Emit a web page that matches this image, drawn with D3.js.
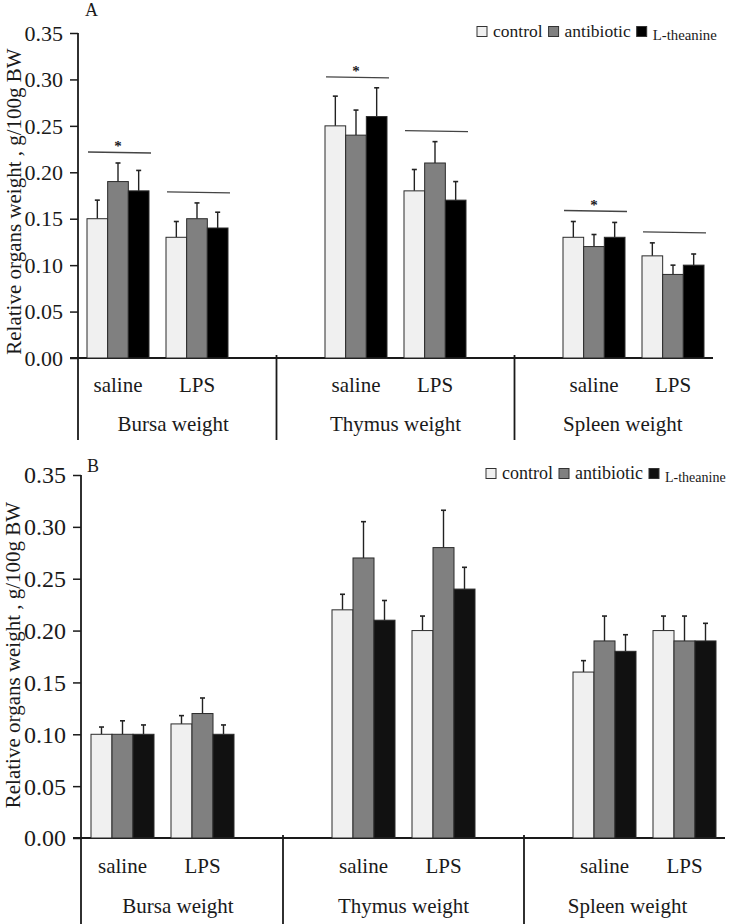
<!DOCTYPE html>
<html>
<head>
<meta charset="utf-8">
<script src="https://cdn.jsdelivr.net/npm/d3@7"></script>
<style>
  body { margin: 0; background: #fff; }
  svg { display: block; font-family: 'Liberation Serif', 'Times New Roman', serif; }
</style>
</head>
<body>
<svg id="chart" width="731" height="924"></svg>
<script>
// categories
const organs = ['Bursa weight', 'Thymus weight', 'Spleen weight']
const treatments = ['saline', 'LPS']
const series = ['control', 'antibiotic', 'L-theanine']
const yTicks = [0, 0.05, 0.10, 0.15, 0.20, 0.25, 0.30, 0.35]
const yTitle = 'Relative organs weight , g/100g BW'

// panel A, order: Bursa saline, Bursa LPS, Thymus saline, Thymus LPS, Spleen saline, Spleen LPS
const controlA = [0.15, 0.13, 0.25, 0.18, 0.13, 0.11]
const antibioticA = [0.19, 0.15, 0.24, 0.21, 0.12, 0.09]
const theanineA = [0.18, 0.14, 0.26, 0.17, 0.13, 0.10]
const controlErrA = [0.020, 0.017, 0.032, 0.023, 0.017, 0.014]
const antibioticErrA = [0.020, 0.017, 0.027, 0.023, 0.013, 0.010]
const theanineErrA = [0.022, 0.017, 0.031, 0.020, 0.016, 0.012]
const sigA = ['*', '', '*', '', '*', ''] // a bracket over every group, star only on saline

// panel B
const controlB = [0.10, 0.11, 0.22, 0.20, 0.16, 0.20]
const antibioticB = [0.10, 0.12, 0.27, 0.28, 0.19, 0.19]
const theanineB = [0.10, 0.10, 0.21, 0.24, 0.18, 0.19]
const controlErrB = [0.007, 0.008, 0.015, 0.014, 0.011, 0.014]
const antibioticErrB = [0.013, 0.015, 0.035, 0.036, 0.024, 0.024]
const theanineErrB = [0.009, 0.009, 0.019, 0.021, 0.016, 0.017]

const svg = d3.select('#chart')
const ink = '#1a1a1a'

function drawPanel (p) {
    const g = svg.append('g')
    const combos = organs.flatMap(o => treatments.map(t => ({ organ: o, treat: t })))

    const y = d3.scaleLinear().domain([0, 0.35]).range([p.bottom, p.top])
    const x0 = d3.scalePoint().domain(organs).range(p.organRange) // organ centre
    const half = (p.groupStep + p.groupWidth) / 2
    const x1 = d3.scaleBand().domain(treatments).range([-half, half])
        .paddingInner((p.groupStep - p.groupWidth) / p.groupStep).paddingOuter(0)
    const x2 = d3.scaleBand().domain(series).range([0, x1.bandwidth()])

    const groupX = c => x0(c.organ) + x1(c.treat)

    // y axis
    const yAxis = g.append('g')
        .attr('transform', `translate(${p.left},0)`)
        .call(d3.axisLeft(y).tickValues(yTicks).tickFormat(d3.format('.2f')).tickSize(8).tickSizeOuter(0))
    yAxis.attr('font-family', null)
    yAxis.select('.domain').remove()
    yAxis.selectAll('.tick line').attr('stroke', ink).attr('stroke-width', 1.5)
    yAxis.selectAll('.tick text')
        .attr('x', -15).attr('dy', '0.33em')
        .attr('font-family', 'Liberation Serif').attr('font-size', p.tickFont).attr('fill', ink)

    g.append('line')
        .attr('x1', p.left).attr('x2', p.left).attr('y1', p.top).attr('y2', p.lineBottom)
        .attr('stroke', ink).attr('stroke-width', 1.8)
    g.append('line')
        .attr('x1', p.left - 8).attr('x2', p.xEnd).attr('y1', p.bottom).attr('y2', p.bottom)
        .attr('stroke', ink).attr('stroke-width', 1.8)

    // organ separators
    const seps = [0, 1].map(i => (x0(organs[i]) + x0(organs[i + 1])) / 2)
    g.selectAll('line.sep').data(seps).enter().append('line')
        .attr('class', 'sep')
        .attr('x1', d => d).attr('x2', d => d)
        .attr('y1', p.bottom - 3).attr('y2', p.lineBottom)
        .attr('stroke', ink).attr('stroke-width', 1.8)

    // y title
    g.append('text')
        .attr('transform', `translate(${p.titleX},${(p.top + p.bottom) / 2 + p.titleShift}) rotate(-90)`)
        .attr('text-anchor', 'middle').attr('font-size', 21).attr('fill', ink)
        .text(yTitle)

    // panel letter
    g.append('text').attr('x', p.letterX).attr('y', p.letterY)
        .attr('font-size', 18).attr('fill', ink).text(p.letter)

    // bars
    const rows = combos.map((c, i) => series.map((s, k) => ({
        c, s, v: p.values[k][i], e: p.errors[k][i]
    })))
    const grp = g.selectAll('g.grp').data(rows).enter().append('g')
        .attr('class', 'grp')
        .attr('transform', d => `translate(${groupX(d[0].c)},0)`)

    grp.selectAll('line.err').data(d => d).enter().append('line')
        .attr('class', 'err')
        .attr('x1', d => x2(d.s) + x2.bandwidth() / 2).attr('x2', d => x2(d.s) + x2.bandwidth() / 2)
        .attr('y1', d => y(d.v)).attr('y2', d => y(d.v + d.e))
        .attr('stroke', '#222').attr('stroke-width', 1.4)
    grp.selectAll('line.cap').data(d => d).enter().append('line')
        .attr('class', 'cap')
        .attr('x1', d => x2(d.s) + x2.bandwidth() / 2 - 2.5).attr('x2', d => x2(d.s) + x2.bandwidth() / 2 + 2.5)
        .attr('y1', d => y(d.v + d.e)).attr('y2', d => y(d.v + d.e))
        .attr('stroke', '#222').attr('stroke-width', 1.6)
    grp.selectAll('rect').data(d => d).enter().append('rect')
        .attr('x', d => x2(d.s))
        .attr('y', d => y(d.v))
        .attr('width', x2.bandwidth())
        .attr('height', d => y(0) - y(d.v))
        .attr('fill', d => p.colors[series.indexOf(d.s)])
        .attr('stroke', '#2a2a2a').attr('stroke-width', 1)

    // significance brackets
    if (p.sig) {
        combos.forEach((c, i) => {
            const top = d3.max(series, (s, k) => p.values[k][i] + p.errors[k][i])
            const ly = y(top) - 11
            const gx = groupX(c)
            g.append('line')
                .attr('x1', gx + 1).attr('x2', gx + x1.bandwidth() + 2)
                .attr('y1', ly).attr('y2', ly + 1)
                .attr('stroke', '#444').attr('stroke-width', 1.3)
            if (p.sig[i]) {
                g.append('text')
                    .attr('x', gx + x1.bandwidth() / 2).attr('y', ly - 1)
                    .attr('text-anchor', 'middle').attr('font-size', 15).attr('font-weight', 'bold')
                    .attr('fill', ink).text(p.sig[i])
            }
        })
    }

    // treatment labels
    g.selectAll('text.treat').data(combos).enter().append('text')
        .attr('class', 'treat')
        .attr('x', d => groupX(d) + x1.bandwidth() / 2)
        .attr('y', p.treatY)
        .attr('text-anchor', 'middle').attr('font-size', 21).attr('fill', ink)
        .text(d => d.treat)

    // organ labels centred in their block
    const bounds = [p.left - 8, ...seps, 731]
    g.selectAll('text.organ').data(organs).enter().append('text')
        .attr('class', 'organ')
        .attr('x', (d, i) => (bounds[i] + bounds[i + 1]) / 2)
        .attr('y', p.organY)
        .attr('text-anchor', 'middle').attr('font-size', 21).attr('fill', ink)
        .text(d => d)

    // legend
    const lg = g.append('g').attr('transform', `translate(${p.legendX},${p.legendY})`)
    let cx = 0
    series.forEach((s, k) => {
        lg.append('rect').attr('x', cx).attr('y', 0).attr('width', 10).attr('height', 10)
            .attr('fill', p.colors[k]).attr('stroke', '#333').attr('stroke-width', 1)
        cx += 16
        const small = k === series.length - 1
        const t = lg.append('text').attr('x', cx).attr('y', small ? 13 : 10)
            .attr('font-size', small ? p.smallFont : p.legendFont).attr('fill', ink).text(s)
        cx += t.node().getComputedTextLength() + 6
    })
}

drawPanel({
    letter: 'A', letterX: 85, letterY: 16,
    left: 78, top: 33, bottom: 358, xEnd: 713, lineBottom: 440,
    organRange: [157.5, 633.5], groupStep: 79, groupWidth: 62,
    tickFont: 22, titleX: 21, titleShift: 6,
    treatY: 392, organY: 431,
    legendX: 477, legendY: 26.5, legendFont: 17.5, smallFont: 14.8,
    colors: ['#f0f0f0', '#808080', '#000000'],
    values: [controlA, antibioticA, theanineA],
    errors: [controlErrA, antibioticErrA, theanineErrA],
    sig: sigA
})

drawPanel({
    letter: 'B', letterX: 87, letterY: 472,
    left: 81, top: 475, bottom: 838, xEnd: 725, lineBottom: 924,
    organRange: [162.5, 644.5], groupStep: 80, groupWidth: 63,
    tickFont: 24, titleX: 20, titleShift: -1.5,
    treatY: 873, organY: 912.5,
    legendX: 486, legendY: 468.5, legendFont: 18, smallFont: 14,
    colors: ['#f0f0f0', '#808080', '#111111'],
    values: [controlB, antibioticB, theanineB],
    errors: [controlErrB, antibioticErrB, theanineErrB],
    sig: null
})
</script>
</body>
</html>
